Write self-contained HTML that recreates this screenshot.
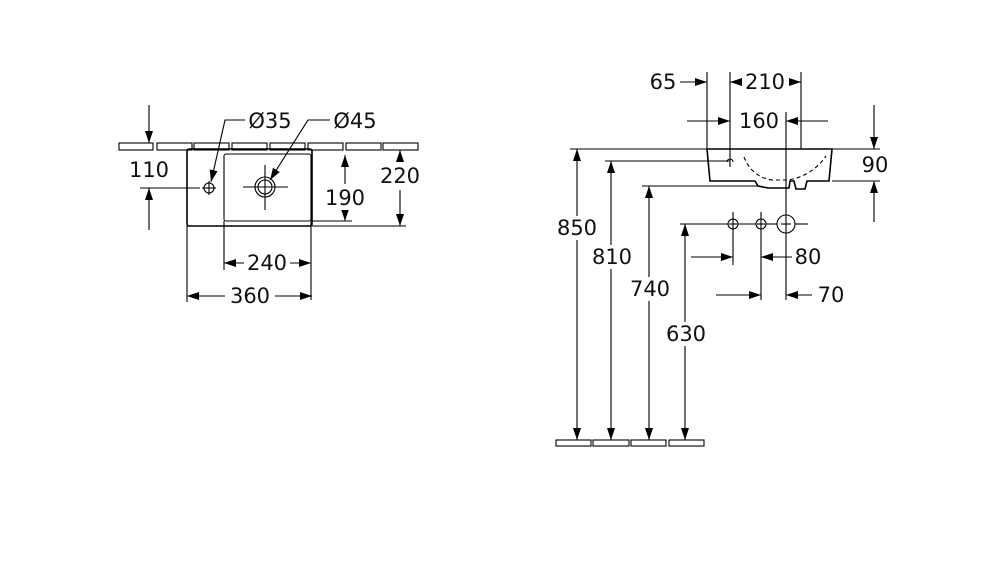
<!DOCTYPE html>
<html><head><meta charset="utf-8"><style>
html,body{margin:0;padding:0;background:#fff;width:1000px;height:585px;overflow:hidden}
text{font-family:"DejaVu Sans","Liberation Sans",sans-serif;font-size:21px;fill:#111;text-anchor:middle;dominant-baseline:central}
</style></head><body>
<svg width="1000" height="585" viewBox="0 0 1000 585" xmlns="http://www.w3.org/2000/svg">
<defs>
<marker id="a" viewBox="0 0 10 10" refX="10" refY="5" markerWidth="12" markerHeight="10" orient="auto-start-reverse" markerUnits="userSpaceOnUse" preserveAspectRatio="none"><path d="M0,1 L10,5 L0,9z" fill="#000"/></marker>
</defs>
<g stroke="#000" stroke-width="1.1" fill="none">
<rect x="119" y="143" width="34" height="7"/><rect x="157" y="143" width="35" height="7"/><rect x="194" y="143" width="35" height="7"/><rect x="232" y="143" width="35" height="7"/><rect x="270" y="143" width="35" height="7"/><rect x="308" y="143" width="35" height="7"/><rect x="346" y="143" width="35" height="7"/><rect x="383" y="143" width="35" height="7"/>
<rect x="187" y="149" width="125" height="77" rx="2" stroke-width="1.6"/>
<rect x="224" y="154" width="87" height="67" rx="2"/>
<circle cx="209" cy="188" r="5"/>
<circle cx="265" cy="187" r="10"/><circle cx="265" cy="187" r="7"/>
<line x1="202" y1="188" x2="216" y2="188"/><line x1="209" y1="181" x2="209" y2="195"/>
<line x1="243" y1="187" x2="288" y2="187"/><line x1="265" y1="165" x2="265" y2="210"/>
<line x1="149" y1="105" x2="149" y2="143" marker-end="url(#a)"/>
<line x1="149" y1="230" x2="149" y2="188" marker-end="url(#a)"/>
<line x1="140" y1="188" x2="200" y2="188"/>
<line x1="345" y1="184" x2="345" y2="155" marker-end="url(#a)"/>
<line x1="345" y1="212" x2="345" y2="221" marker-end="url(#a)"/>
<line x1="311" y1="221" x2="352" y2="221"/>
<line x1="400" y1="162" x2="400" y2="150" marker-end="url(#a)"/>
<line x1="400" y1="190" x2="400" y2="226" marker-end="url(#a)"/>
<line x1="312" y1="226" x2="406" y2="226"/>
<line x1="224" y1="221" x2="224" y2="270"/><line x1="311" y1="221" x2="311" y2="300"/>
<line x1="187" y1="226" x2="187" y2="302"/>
<line x1="244" y1="263" x2="224" y2="263" marker-end="url(#a)"/><line x1="290" y1="263" x2="311" y2="263" marker-end="url(#a)"/>
<line x1="225" y1="296" x2="187" y2="296" marker-end="url(#a)"/><line x1="275" y1="296" x2="312" y2="296" marker-end="url(#a)"/>
<polyline points="245,120 225,120 211,182" marker-end="url(#a)"/>
<polyline points="330,120 308,120 270,180" marker-end="url(#a)"/>

<line x1="570" y1="149" x2="880" y2="149"/>
<path d="M707,149 L832,149 L829,181 L807,181 L805,189 L796,189 L794,181 L790,181 L789,188 L768,188 L758,186 L755,181 L710,181 Z" stroke-width="1.6"/>
<path d="M744,157 Q752,177 772,180 L788,180 Q812,176 826,156" stroke-dasharray="4,3"/>
<path d="M727,162 a3,3 0 0 1 6,0" /><line x1="730" y1="163" x2="730" y2="167"/>
<line x1="605" y1="161" x2="730" y2="161"/>
<line x1="642" y1="186" x2="760" y2="186"/>
<line x1="832" y1="181" x2="880" y2="181"/>
<line x1="577" y1="440" x2="577" y2="149" marker-end="url(#a)" marker-start="url(#a)"/>
<line x1="611" y1="440" x2="611" y2="161" marker-end="url(#a)" marker-start="url(#a)"/>
<line x1="649" y1="440" x2="649" y2="186" marker-end="url(#a)" marker-start="url(#a)"/>
<line x1="685" y1="440" x2="685" y2="224" marker-end="url(#a)" marker-start="url(#a)"/>
<rect x="556" y="440" width="35" height="6"/><rect x="593" y="440" width="36" height="6"/><rect x="631" y="440" width="35" height="6"/><rect x="669" y="440" width="35" height="6"/>
<line x1="707" y1="72" x2="707" y2="149"/><line x1="730" y1="72" x2="730" y2="165"/><line x1="801" y1="72" x2="801" y2="149"/>
<line x1="680" y1="82" x2="707" y2="82" marker-end="url(#a)"/>
<line x1="742" y1="82" x2="730" y2="82" marker-end="url(#a)"/>
<line x1="789" y1="82" x2="801" y2="82" marker-end="url(#a)"/>
<line x1="687" y1="121" x2="730" y2="121" marker-end="url(#a)"/>
<line x1="828" y1="121" x2="786" y2="121" marker-end="url(#a)"/>
<line x1="786" y1="112" x2="786" y2="300"/>
<line x1="874" y1="105" x2="874" y2="149" marker-end="url(#a)"/>
<line x1="874" y1="222" x2="874" y2="181" marker-end="url(#a)"/>
<line x1="680" y1="224" x2="728" y2="224"/><line x1="738" y1="224" x2="756" y2="224"/><line x1="766" y1="224" x2="777" y2="224"/><line x1="795" y1="224" x2="808" y2="224"/>
<circle cx="733" cy="224" r="5"/><circle cx="761" cy="224" r="5"/><circle cx="786" cy="224" r="9"/>
<line x1="729" y1="224" x2="737" y2="224"/><line x1="757" y1="224" x2="765" y2="224"/><line x1="781" y1="224" x2="791" y2="224"/>
<line x1="733" y1="212" x2="733" y2="265"/><line x1="761" y1="212" x2="761" y2="300"/>
<line x1="691" y1="257" x2="733" y2="257" marker-end="url(#a)"/>
<line x1="792" y1="257" x2="761" y2="257" marker-end="url(#a)"/>
<line x1="716" y1="295" x2="761" y2="295" marker-end="url(#a)"/>
<line x1="812" y1="295" x2="786" y2="295" marker-end="url(#a)"/>
</g>
<g>
<rect x="127" y="158" width="44" height="24" fill="#fff"/>
<text x="149" y="170">110</text>
<text x="270" y="121">Ø35</text>
<text x="355" y="121">Ø45</text>
<rect x="323" y="186" width="44" height="24" fill="#fff"/><text x="345" y="198">190</text>
<rect x="378" y="164" width="44" height="24" fill="#fff"/><text x="400" y="176">220</text>
<text x="267" y="263">240</text>
<text x="250" y="296">360</text>
<text x="663" y="82">65</text>
<text x="765" y="82">210</text>
<text x="759" y="121">160</text>
<text x="875" y="165">90</text>
<rect x="554" y="216" width="46" height="24" fill="#fff"/><text x="577" y="228">850</text>
<rect x="589" y="245" width="46" height="24" fill="#fff"/><text x="612" y="257">810</text>
<rect x="627" y="277" width="46" height="24" fill="#fff"/><text x="650" y="289">740</text>
<rect x="663" y="322" width="46" height="24" fill="#fff"/><text x="686" y="334">630</text>
<text x="808" y="257">80</text>
<text x="831" y="295">70</text>
</g>
</svg>
</body></html>
